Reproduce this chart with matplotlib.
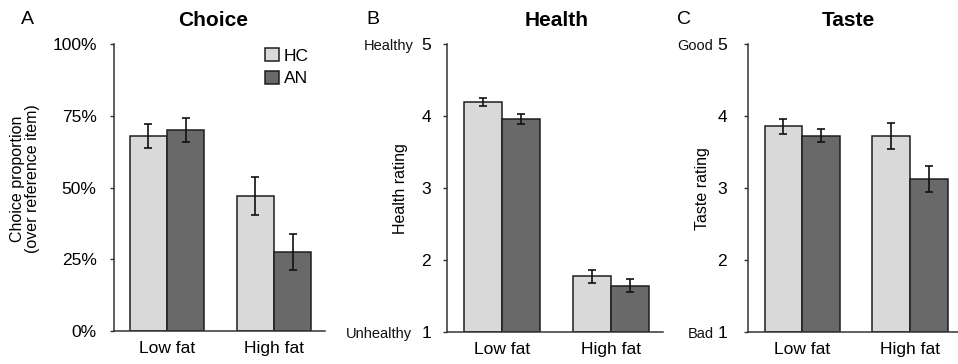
import matplotlib
matplotlib.use("Agg")
import matplotlib.pyplot as plt
import numpy as np

plt.rcParams['font.family'] = ['Liberation Sans', 'DejaVu Sans']

categories = ['Low fat', 'High fat']
groups = ['HC', 'AN']

choice_hc = [0.68, 0.47]
choice_hc_err = [0.041, 0.067]
choice_an = [0.70, 0.275]
choice_an_err = [0.042, 0.063]

health_hc = [4.20, 1.78]
health_hc_err = [0.06, 0.09]
health_an = [3.96, 1.65]
health_an_err = [0.07, 0.085]

taste_hc = [3.86, 3.73]
taste_hc_err = [0.10, 0.18]
taste_an = [3.73, 3.13]
taste_an_err = [0.09, 0.18]

choice_ticks = [0, 0.25, 0.5, 0.75, 1.0]
choice_ticklabels = ['0%', '25%', '50%', '75%', '100%']
rating_ticks = [1, 2, 3, 4, 5]

W, H = 958, 364
fig = plt.figure(figsize=(W / 100, H / 100), dpi=100)

HC_COLOR = '#d9d9d9'
AN_COLOR = '#696969'
EDGE = '#1e1e1e'
SPINE = '#333333'


def px_axes(l, r, top, bottom):
    return fig.add_axes([l / W, (H - bottom) / H, (r - l) / W, (bottom - top) / H])


def draw(ax, hc, hc_err, an, an_err, ylim, xlim, ytick_pad):
    x = np.arange(len(categories))
    w = 0.35
    b1 = ax.bar(x - w / 2, np.array(hc) - ylim[0], w, bottom=ylim[0], color=HC_COLOR,
                edgecolor=EDGE, linewidth=1.1, zorder=2)
    b2 = ax.bar(x + w / 2, np.array(an) - ylim[0], w, bottom=ylim[0], color=AN_COLOR,
                edgecolor=EDGE, linewidth=1.1, zorder=2)
    ax.errorbar(x - w / 2, hc, yerr=hc_err, fmt='none', ecolor='#111111',
                elinewidth=1.2, capsize=3, capthick=1.2, zorder=3)
    ax.errorbar(x + w / 2, an, yerr=an_err, fmt='none', ecolor='#111111',
                elinewidth=1.2, capsize=3, capthick=1.2, zorder=3)
    ax.set_ylim(*ylim)
    ax.set_xlim(*xlim)
    ax.set_xticks(x)
    ax.set_xticklabels(categories, fontsize=12.5)
    ax.tick_params(axis='x', length=0, pad=7)
    ax.tick_params(axis='y', length=3, width=1, color=SPINE, labelsize=12.5, pad=ytick_pad)
    for s in ['top', 'right']:
        ax.spines[s].set_visible(False)
    for s in ['left', 'bottom']:
        ax.spines[s].set_color(SPINE)
        ax.spines[s].set_linewidth(1.1)
    return b1, b2


# Panel A
axA = px_axes(114, 325, 44, 331)
bA1, bA2 = draw(axA, choice_hc, choice_hc_err, choice_an, choice_an_err,
                (0, 1), (-0.495, 1.477), 9.5)
axA.set_yticks(choice_ticks)
axA.set_yticklabels(choice_ticklabels)
axA.legend([bA1, bA2], groups, loc='upper left', bbox_to_anchor=(265 / W, 1 - 48 / H),
           bbox_transform=fig.transFigure, frameon=False, borderpad=0, borderaxespad=0,
           handlelength=0.8, handleheight=0.8, handletextpad=0.3, labelspacing=0.4,
           fontsize=12.5)

# Panel B
axB = px_axes(447, 663, 44.3, 332.3)
draw(axB, health_hc, health_hc_err, health_an, health_an_err,
     (1, 5), (-0.51, 1.48), 8.6)
axB.set_yticks(rating_ticks)

# Panel C
axC = px_axes(748, 958, 44.3, 332.3)
draw(axC, taste_hc, taste_hc_err, taste_an, taste_an_err,
     (1, 5), (-0.504, 1.446), 12)
axC.set_yticks(rating_ticks)


def qualifier(ax, text, yval, offset_px):
    ax.annotate(text, xy=(0, yval), xycoords=('axes fraction', 'data'),
                xytext=(-offset_px * 72 / 100, 0), textcoords='offset points',
                ha='right', va='center_baseline', fontsize=10.5, color='#111111')


qualifier(axB, 'Healthy', 5, 33)
qualifier(axB, 'Unhealthy', 1, 35)
qualifier(axC, 'Good', 5, 35)
qualifier(axC, 'Bad', 1, 34)


def ftext(px, py, s, **kw):
    fig.text(px / W, 1 - py / H, s, **kw)


# titles
ftext(213, 20, 'Choice', ha='center', va='center', fontsize=15, fontweight='bold')
ftext(557, 20, 'Health', ha='center', va='center', fontsize=15, fontweight='bold')
ftext(848, 20, 'Taste', ha='center', va='center', fontsize=15, fontweight='bold')

# panel letters
ftext(27, 20, 'A', ha='center', va='center', fontsize=14)
ftext(373, 20, 'B', ha='center', va='center', fontsize=14)
ftext(684, 20, 'C', ha='center', va='center', fontsize=14)

# y labels
ftext(25, 179, 'Choice proportion\n(over reference item)', ha='center', va='center',
      rotation=90, fontsize=11.5, linespacing=1.0)
ftext(400, 189, 'Health rating', ha='center', va='center', rotation=90, fontsize=11.5)
ftext(703, 189, 'Taste rating', ha='center', va='center', rotation=90, fontsize=11.5)

fig.savefig('out.png', dpi=100, facecolor='white')
